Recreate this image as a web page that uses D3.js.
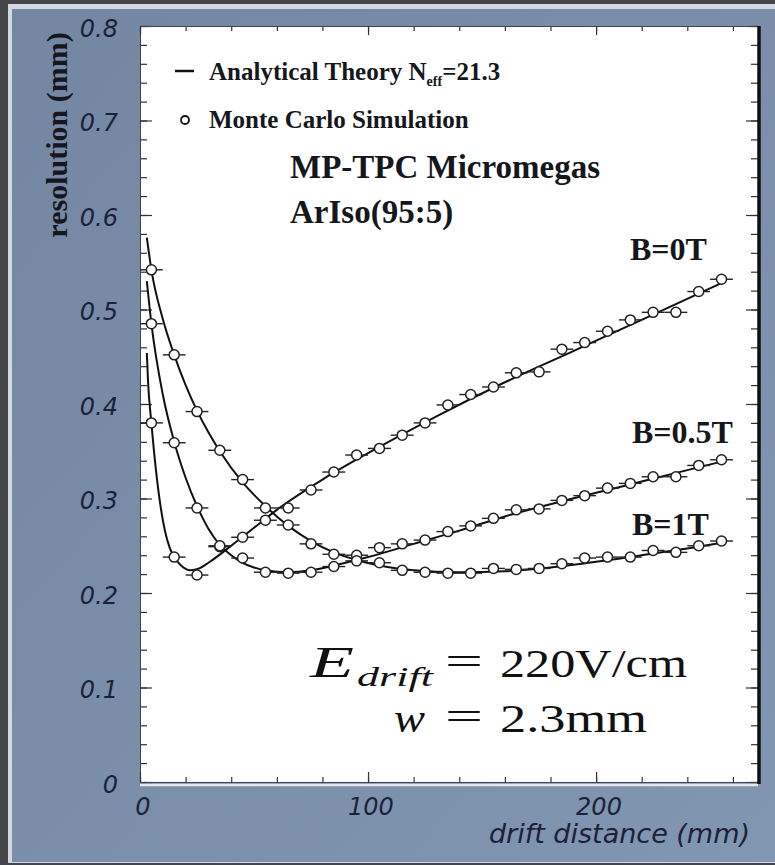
<!DOCTYPE html>
<html>
<head>
<meta charset="utf-8">
<script src="https://d3js.org/d3.v7.min.js"></script>
<style>
  body { margin: 0; background: #45464c; }
  svg { display: block; }
</style>
</head>
<body>
<div id="chart"></div>
<script>
// drift distance of the Monte Carlo bins (mm)
const mcX = [5, 15, 25, 35, 45, 55, 65, 75, 85, 95, 105, 115, 125, 135, 145, 155, 165, 175, 185, 195, 205, 215, 225, 235, 245, 255];
// Monte Carlo resolution (mm)
const mcB0 = [0.380, 0.238, 0.219, 0.249, 0.259, 0.277, 0.290, 0.309, 0.328, 0.346, 0.353, 0.367, 0.380, 0.399, 0.410, 0.418, 0.433, 0.434, 0.458, 0.465, 0.477, 0.489, 0.497, 0.497, 0.519, 0.532];
const mcB05 = [0.485, 0.359, 0.290, 0.250, 0.237, 0.222, 0.221, 0.222, 0.228, 0.240, 0.248, 0.252, 0.256, 0.265, 0.271, 0.279, 0.288, 0.289, 0.298, 0.303, 0.311, 0.316, 0.323, 0.323, 0.335, 0.341];
const mcB1 = [0.542, 0.452, 0.392, 0.351, 0.320, 0.290, 0.272, 0.252, 0.241, 0.234, 0.232, 0.224, 0.222, 0.221, 0.221, 0.226, 0.225, 0.226, 0.231, 0.237, 0.238, 0.238, 0.245, 0.243, 0.250, 0.255];

// analytical theory curves
const thB0X = [3, 3.5, 5, 7, 9, 11, 13, 15, 18, 22, 26, 30, 40, 50, 60, 80, 100, 130, 160, 190, 220, 255];
const thB0Y = [0.454, 0.425, 0.380, 0.330, 0.292, 0.265, 0.248, 0.238, 0.229, 0.224, 0.226, 0.232, 0.250, 0.269, 0.288, 0.320, 0.348, 0.387, 0.423, 0.456, 0.489, 0.528];
const thB05X = [3, 5, 10, 15, 20, 25, 30, 35, 40, 45, 50, 55, 65, 75, 85, 100, 120, 140, 160, 180, 200, 220, 240, 255];
const thB05Y = [0.530, 0.485, 0.410, 0.360, 0.322, 0.292, 0.268, 0.251, 0.240, 0.232, 0.227, 0.224, 0.222, 0.224, 0.229, 0.238, 0.252, 0.266, 0.281, 0.294, 0.306, 0.318, 0.330, 0.339];
const thB1X = [3, 5, 10, 15, 20, 25, 30, 35, 45, 55, 65, 75, 85, 95, 105, 120, 140, 160, 180, 200, 220, 240, 255];
const thB1Y = [0.576, 0.542, 0.490, 0.452, 0.420, 0.393, 0.370, 0.350, 0.317, 0.292, 0.271, 0.255, 0.243, 0.235, 0.229, 0.224, 0.222, 0.223, 0.227, 0.233, 0.240, 0.247, 0.253];

const yTicks = [0, 0.1, 0.2, 0.3, 0.4, 0.5, 0.6, 0.7, 0.8];
const yTickLabels = ["0", "0.1", "0.2", "0.3", "0.4", "0.5", "0.6", "0.7", "0.8"];
const xTicks = [0, 100, 200];
const xTickLabels = ["0", "100", "200"];
const binHalfWidth = 5;

const W = 775, H = 865;
const svg = d3.select("#chart").append("svg").attr("width", W).attr("height", H);

// frame / slide background
const defs = svg.append("defs");
const grad = defs.append("linearGradient").attr("id", "panel").attr("x1", 0).attr("y1", 0).attr("x2", 1).attr("y2", 1);
grad.append("stop").attr("offset", "0%").attr("stop-color", "#7387a2");
grad.append("stop").attr("offset", "100%").attr("stop-color", "#8196b0");
svg.append("rect").attr("width", W).attr("height", H).attr("fill", "#45464c");
svg.append("rect").attr("x", 8).attr("y", 4).attr("width", W - 8).attr("height", H - 6).attr("fill", "#d3d9e2");
svg.append("rect").attr("x", 12).attr("y", 9).attr("width", W - 12).attr("height", H - 12).attr("fill", "url(#panel)");

const x = d3.scaleLinear().domain([0, 271]).range([140, 758]);
const y = d3.scaleLinear().domain([0, 0.8]).range([782, 26]);

svg.append("rect").attr("x", x(0)).attr("y", y(0.8)).attr("width", x(271) - x(0)).attr("height", y(0) - y(0.8)).attr("fill", "#fff");

// axes: ticks point inward on all four sides
const tickStyle = g => {
  g.select(".domain").attr("stroke", "#444");
  g.selectAll(".tick line").attr("stroke", "#333").attr("stroke-width", 1.2);
};
const labelStyle = g => g.selectAll("text")
  .attr("font-family", "DejaVu Sans").attr("font-style", "italic")
  .attr("font-size", 24).attr("fill", "#1b2238");

svg.append("g").attr("transform", `translate(${x(0)},0)`)
  .call(d3.axisLeft(y).tickValues(y.ticks(40)).tickSize(-7).tickFormat(""))
  .call(tickStyle);
svg.append("g").attr("transform", `translate(${x(0)},0)`)
  .call(d3.axisLeft(y).tickValues(yTicks).tickSize(-12).tickPadding(22).tickFormat((d, i) => yTickLabels[i]))
  .call(tickStyle).call(labelStyle)
  .call(g => g.selectAll("text").attr("dy", "0.42em"));

svg.append("g").attr("transform", `translate(${x(271)},0)`)
  .call(d3.axisRight(y).tickValues(y.ticks(40)).tickSize(-7).tickFormat(""))
  .call(tickStyle);
svg.append("g").attr("transform", `translate(${x(271)},0)`)
  .call(d3.axisRight(y).tickValues(yTicks).tickSize(-12).tickFormat(""))
  .call(tickStyle);

svg.append("g").attr("transform", `translate(0,${y(0.8)})`)
  .call(d3.axisTop(x).tickValues(d3.range(0, 271, 20)).tickSize(-5).tickFormat(""))
  .call(tickStyle);
svg.append("g").attr("transform", `translate(0,${y(0.8)})`)
  .call(d3.axisTop(x).tickValues(xTicks).tickSize(-9).tickFormat(""))
  .call(tickStyle);

svg.append("g").attr("transform", `translate(0,${y(0)})`)
  .call(d3.axisBottom(x).tickValues(d3.range(0, 271, 20)).tickSize(-5).tickFormat(""))
  .call(tickStyle);
svg.append("g").attr("transform", `translate(0,${y(0)})`)
  .call(d3.axisBottom(x).tickValues(xTicks).tickSize(-10).tickPadding(10).tickFormat((d, i) => xTickLabels[i]))
  .call(tickStyle).call(labelStyle)
  .call(g => g.selectAll("text").attr("dy", "0.95em").attr("dx", "0.1em"));

// light line under the bottom axis and heavy right border
svg.append("line").attr("x1", x(0)).attr("x2", x(271)).attr("y1", y(0) + 3).attr("y2", y(0) + 3)
  .attr("stroke", "#e4e8ee").attr("stroke-width", 2.5);
svg.append("line").attr("x1", x(271) + 1).attr("x2", x(271) + 1).attr("y1", y(0.8)).attr("y2", y(0) + 2)
  .attr("stroke", "#111").attr("stroke-width", 3.5);

// axis titles
svg.append("text").attr("transform", `translate(67,${135}) rotate(-90)`)
  .attr("text-anchor", "middle").attr("font-family", "Liberation Serif").attr("font-weight", "bold")
  .attr("font-size", 30).attr("fill", "#15171c").text("resolution (mm)");
svg.append("text").attr("x", 750).attr("y", 843).attr("text-anchor", "end")
  .attr("font-family", "DejaVu Sans").attr("font-style", "italic")
  .attr("font-size", 27).attr("fill", "#1b2238").text("drift distance (mm)");

// theory curves
const line = d3.line().x(d => x(d[0])).y(d => y(d[1])).curve(d3.curveMonotoneX);
const curves = [
  d3.zip(thB0X, thB0Y),
  d3.zip(thB05X, thB05Y),
  d3.zip(thB1X, thB1Y)
];
svg.append("g").selectAll("path").data(curves).join("path")
  .attr("d", line).attr("fill", "none").attr("stroke", "#111").attr("stroke-width", 2);

// Monte Carlo points with horizontal bin bars
const mcSeries = [mcB0, mcB05, mcB1];
const pts = mcSeries.flatMap(s => s.map((v, i) => [mcX[i], v]));
const mg = svg.append("g");
mg.selectAll("line").data(pts).join("line")
  .attr("x1", d => x(d[0] - binHalfWidth)).attr("x2", d => x(d[0] + binHalfWidth))
  .attr("y1", d => y(d[1])).attr("y2", d => y(d[1]))
  .attr("stroke", "#222").attr("stroke-width", 1.4);
mg.selectAll("circle").data(pts).join("circle")
  .attr("cx", d => x(d[0])).attr("cy", d => y(d[1])).attr("r", 5)
  .attr("fill", "#fff").attr("stroke", "#222").attr("stroke-width", 1.5);

// legend
const lg = svg.append("g").attr("font-family", "Liberation Serif").attr("font-weight", "bold").attr("fill", "#15171c");
lg.append("line").attr("x1", 175).attr("x2", 194).attr("y1", 71).attr("y2", 71).attr("stroke", "#111").attr("stroke-width", 2.5);
const t1 = lg.append("text").attr("x", 209).attr("y", 80).attr("font-size", 25);
t1.append("tspan").text("Analytical Theory N");
t1.append("tspan").attr("font-size", 14).attr("dy", 6).text("eff");
t1.append("tspan").attr("dy", -6).text("=21.3");
lg.append("circle").attr("cx", 185).attr("cy", 120).attr("r", 4).attr("fill", "#fff").attr("stroke", "#111").attr("stroke-width", 1.8);
lg.append("text").attr("x", 209).attr("y", 128).attr("font-size", 25).text("Monte Carlo Simulation");

lg.append("text").attr("x", 290).attr("y", 178).attr("font-size", 33).text("MP-TPC Micromegas");
lg.append("text").attr("x", 290).attr("y", 223).attr("font-size", 33).text("ArIso(95:5)");

lg.append("text").attr("x", 630).attr("y", 260).attr("font-size", 32).text("B=0T");
lg.append("text").attr("x", 632).attr("y", 443).attr("font-size", 32).text("B=0.5T");
lg.append("text").attr("x", 632).attr("y", 535).attr("font-size", 32).text("B=1T");

// field and pad width, equals signs aligned
const mt = svg.append("g").attr("font-family", "Liberation Serif").attr("fill", "#111");
const piece = (txt, px, py, w, size, italic) => mt.append("text")
  .attr("x", px).attr("y", py).attr("font-size", size)
  .attr("font-style", italic ? "italic" : "normal")
  .attr("textLength", w).attr("lengthAdjust", "spacingAndGlyphs").text(txt);
piece("E", 310, 677, 44, 44, true);
piece("drift", 357, 686, 76, 28, true);
piece("=", 445, 675, 38, 40, false);
piece("220V/cm", 500, 677, 187, 41, false);
piece("w", 394, 732, 31, 41, true);
piece("=", 445, 730, 38, 40, false);
piece("2.3mm", 500, 732, 147, 41, false);
</script>
</body>
</html>
